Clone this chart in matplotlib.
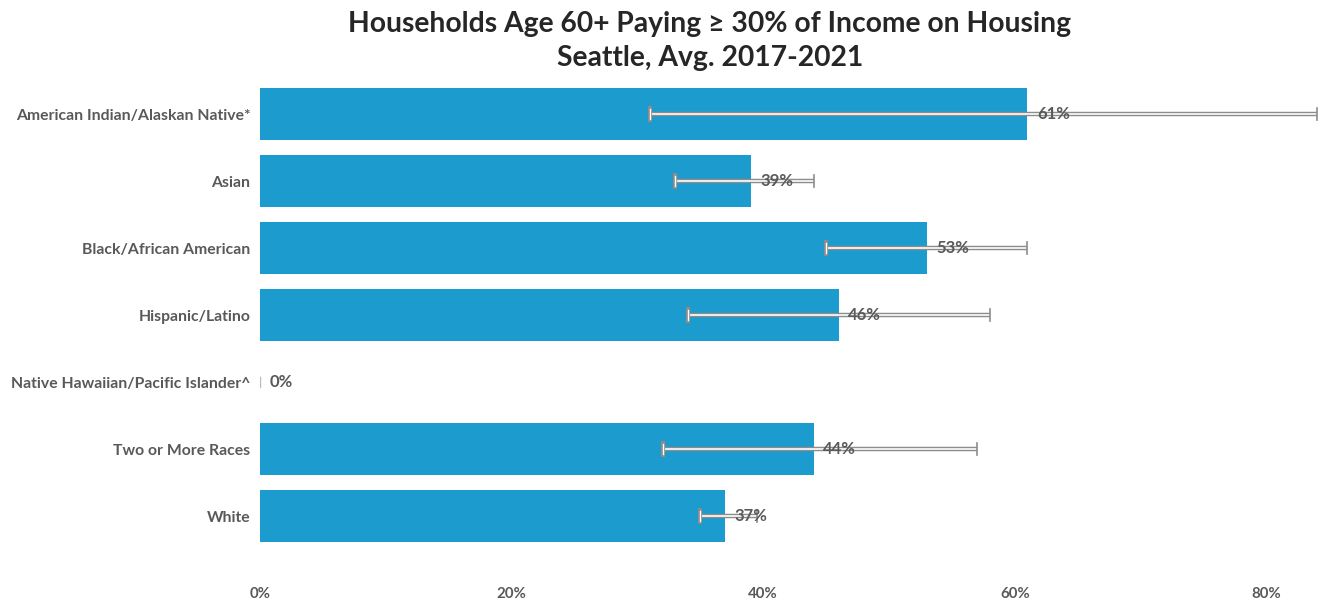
import numpy as np
import matplotlib.pyplot as plt

groups = ['American Indian/Alaskan Native*', 'Asian', 'Black/African American',
          'Hispanic/Latino', 'Native Hawaiian/Pacific Islander^', 'Two or More Races', 'White']
values = [61, 39, 53, 46, 0, 44, 37]
err_low = [31, 33, 45, 34, 0, 32, 35]
err_high = [84, 44, 61, 58, 0, 57, 39.5]
ticks = [0, 20, 40, 60, 80]

plt.rcParams['font.family'] = ['Lato', 'DejaVu Sans']
grey = '#595959'

fig = plt.figure(figsize=(13.3, 6.04), dpi=100)
ax = fig.add_axes([260 / 1330, 0.0902, 1060 / 1330, 0.7765])

y = np.arange(len(groups))
ax.barh(y, values, height=0.78, color='#1B9BCE')

# error bars: white line with grey outline, open cap at the low end
for i in range(len(groups)):
    if values[i] == 0:
        ax.plot([0, 0], [i - 0.08, i + 0.08], color='#bbbbbb', lw=1)
        continue
    ax.plot([err_low[i], err_high[i]], [i, i], color='#8c8c8c', lw=3.2, solid_capstyle='butt', zorder=3)
    ax.plot([err_low[i], err_high[i]], [i, i], color='white', lw=1.2, solid_capstyle='butt', zorder=4)
    ax.plot([err_low[i], err_low[i]], [i - 0.09, i + 0.09], color='#8c8c8c', lw=3, zorder=4)
    ax.plot([err_low[i], err_low[i]], [i - 0.07, i + 0.07], color='white', lw=1, zorder=5)
    ax.plot([err_high[i], err_high[i]], [i - 0.09, i + 0.09], color='#8c8c8c', lw=1.2, zorder=4)

for i, v in enumerate(values):
    ax.text(v + 0.75, i, f'{v}%', va='center', ha='left', fontsize=12,
            fontweight='bold', color=grey, zorder=6)

ax.set_xlim(0, 84.26)
ax.set_ylim(6.5, -0.5)
ax.set_yticks(y)
ax.set_yticklabels(groups, fontsize=11.3, fontweight='bold', color=grey)
ax.set_xticks(ticks)
ax.set_xticklabels([f'{t}%' for t in ticks], fontsize=10.8, fontweight='bold', color=grey)
ax.tick_params(length=0)
ax.tick_params(axis='y', pad=7)
ax.tick_params(axis='x', pad=27)
for s in ax.spines.values():
    s.set_visible(False)

fig.text(710 / 1330, 1 - 41 / 604, 'Households Age 60+ Paying \u2265 30% of Income on Housing\nSeattle, Avg. 2017-2021',
         ha='center', va='center', fontsize=20.3, fontweight='bold', color='#262626', linespacing=1.38)

fig.savefig('out.png', dpi=100)
